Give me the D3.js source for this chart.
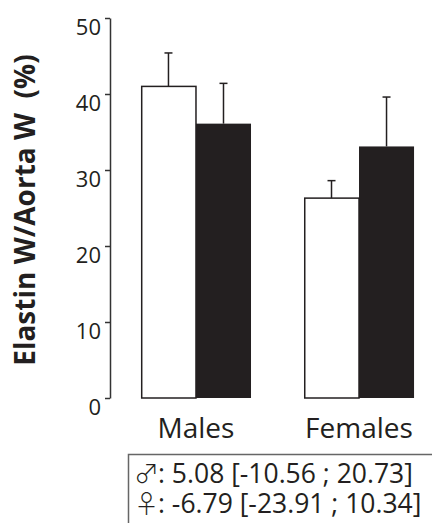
<!DOCTYPE html>
<html>
<head>
<meta charset="utf-8">
<script src="https://cdn.jsdelivr.net/npm/d3@7"></script>
<style>
  html, body { margin: 0; padding: 0; background: #fff; }
  svg { display: block; }
  text { font-family: "Open Sans", sans-serif; fill: #231f20; }
</style>
</head>
<body>
<svg id="chart" width="432" height="523"></svg>
<script>
// ---- data ----
const groups = ["Males", "Females"];
const series = ["open", "filled"];
const meanOpen = [41.0, 26.3];
const meanFilled = [36.1, 33.1];
const errOpen = [4.4, 2.3];
const errFilled = [5.3, 6.5];
const yTicks = [0, 10, 20, 30, 40, 50];
const yLabel = "Elastin W/Aorta W  (%)";
const statSymbols = ["\u2642", "\u2640"];
const statTexts = [": 5.08 [-10.56 ; 20.73]", ": -6.79 [-23.91 ; 10.34]"];

const rows = [];
groups.forEach((g, i) => {
  rows.push({ group: g, s: "open", v: meanOpen[i], e: errOpen[i] });
  rows.push({ group: g, s: "filled", v: meanFilled[i], e: errFilled[i] });
});

const svg = d3.select("#chart");
const ink = "#231f20";

const y = d3.scaleLinear().domain([0, 50]).range([398, 18]);
const x0 = d3.scaleBand().domain(groups).range([116.5, 438.5]).paddingInner(0.325).paddingOuter(0.15);
const x1 = d3.scaleBand().domain(series).range([0, x0.bandwidth()]).padding(0);

// y axis
const axis = svg.append("g").attr("transform", "translate(110,0)")
  .call(d3.axisLeft(y).tickValues(yTicks).tickSize(5).tickPadding(4).tickSizeOuter(0));
axis.select(".domain").attr("stroke", "#333").attr("stroke-width", 1.5);
axis.selectAll(".tick line").attr("stroke", "#333").attr("stroke-width", 1.5);
axis.selectAll(".tick text")
  .attr("font-family", "Open Sans, sans-serif")
  .attr("font-size", 22)
  .attr("fill", ink)
  .attr("dy", "0.95em")
  .attr("y", -4);

// error bars
const eb = svg.append("g");
rows.forEach(d => {
  const cx = x0(d.group) + x1(d.s) + x1.bandwidth() / 2;
  eb.append("line").attr("x1", cx).attr("x2", cx)
    .attr("y1", y(d.v)).attr("y2", y(d.v + d.e))
    .attr("stroke", ink).attr("stroke-width", 1.5);
  eb.append("line").attr("x1", cx - 4).attr("x2", cx + 4)
    .attr("y1", y(d.v + d.e)).attr("y2", y(d.v + d.e))
    .attr("stroke", ink).attr("stroke-width", 1.5);
});

// bars
svg.append("g").selectAll("rect").data(rows).join("rect")
  .attr("x", d => x0(d.group) + x1(d.s) + (d.s === "open" ? 0.75 : 0))
  .attr("width", d => x1.bandwidth() - (d.s === "open" ? 0.75 : 0))
  .attr("y", d => y(d.v))
  .attr("height", d => y(0) - y(d.v))
  .attr("fill", d => d.s === "open" ? "#fff" : ink)
  .attr("stroke", ink)
  .attr("stroke-width", d => d.s === "open" ? 1.5 : 0);

// category labels
svg.append("g").selectAll("text").data(groups).join("text")
  .attr("x", d => x0(d) + x0.bandwidth() / 2)
  .attr("y", 438)
  .attr("text-anchor", "middle")
  .attr("font-size", 28)
  .text(d => d);

// y label
svg.append("text")
  .attr("transform", "translate(35,210) rotate(-90)")
  .attr("text-anchor", "middle")
  .attr("font-size", 28)
  .attr("font-weight", "bold")
  .attr("xml:space", "preserve")
  .style("white-space", "pre")
  .text(yLabel);

// stats box
svg.append("path")
  .attr("d", "M128.5,523 L128.5,454.5 L432,454.5")
  .attr("fill", "none").attr("stroke", "#666").attr("stroke-width", 1.5);
const st = svg.append("text").attr("font-size", 26.5);
statTexts.forEach((t, i) => {
  st.append("tspan")
    .attr("x", 134).attr("y", 483 + i * 30)
    .attr("font-family", "Noto Sans CJK JP, Noto Sans CJK SC, sans-serif")
    .attr("font-weight", 300)
    .attr("font-size", 25)
    .text(statSymbols[i]);
  st.append("tspan").attr("dx", -1).text(t);
});
</script>
</body>
</html>
